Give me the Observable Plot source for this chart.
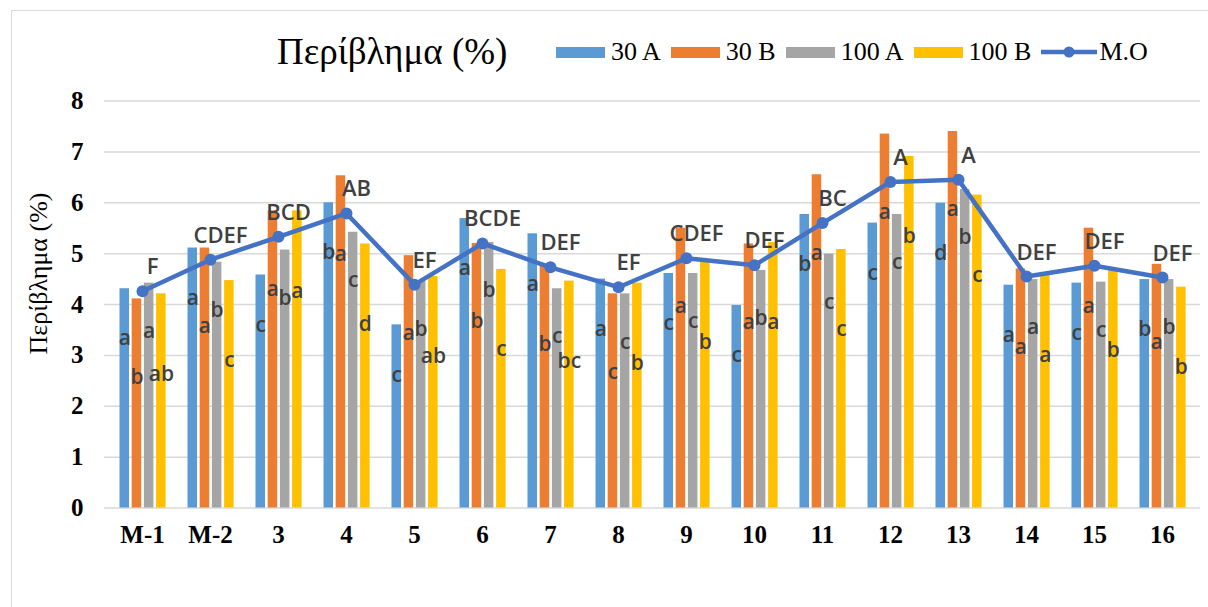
<!DOCTYPE html>
<html>
<head>
<meta charset="utf-8">
<script src="https://cdn.jsdelivr.net/npm/d3@7"></script>
<script src="https://cdn.jsdelivr.net/npm/@observablehq/plot@0.6"></script>
<style>
  html, body { margin: 0; padding: 0; background: #fff; overflow: hidden; }
  #wrap { position: relative; width: 1208px; height: 607px; overflow: hidden; background: #fff; }
  #frame { position: absolute; left: 11px; top: 10px; width: 1400px; height: 900px; border: 1.5px solid #d9d9d9; box-sizing: border-box; }
  #title { position: absolute; left: 277px; top: 33px; font-family: "Liberation Serif", serif; font-size: 37px; line-height: 37px; color: #000; white-space: nowrap; }
  #legend { position: absolute; left: 556px; top: 39px; height: 26px; display: flex; align-items: center; font-family: "Liberation Serif", serif; font-size: 26px; line-height: 26px; color: #000; white-space: nowrap; }
  .item { display: flex; align-items: center; margin-right: 10px; }
  .sw { display: inline-block; width: 49px; height: 11px; margin-right: 6px; }
  .lsw { display: inline-block; width: 56px; height: 14px; margin-right: 2px; }
  #chart { position: absolute; left: 0; top: 80px; }
</style>
</head>
<body>
<div id="wrap">
  <div id="frame"></div>
  <div id="title"></div>
  <div id="legend"></div>
  <div id="chart"></div>
</div>
<script>
// ---------- data ----------
const categories = ["M-1", "M-2", "3", "4", "5", "6", "7", "8", "9", "10", "11", "12", "13", "14", "15", "16"];
const seriesNames = ["30 A", "30 B", "100 A", "100 B"];
const lineName = "M.O";
const titleText = "Περίβλημα (%)";
const yAxisTitle = "Περίβλημα (%)";
const yTicks = [0, 1, 2, 3, 4, 5, 6, 7, 8];

const values30A  = [4.31, 5.11, 4.58, 6.00, 3.60, 5.69, 5.39, 4.50, 4.61, 3.98, 5.77, 5.60, 5.99, 4.38, 4.42, 4.49];
const values30B  = [4.11, 5.11, 5.84, 6.53, 4.96, 5.20, 4.76, 4.21, 5.50, 5.19, 6.55, 7.35, 7.40, 4.70, 5.50, 4.79];
const values100A = [4.42, 4.83, 5.07, 5.42, 4.45, 5.22, 4.31, 4.21, 4.61, 4.67, 4.99, 5.77, 6.26, 4.49, 4.44, 4.49];
const values100B = [4.21, 4.47, 5.84, 5.19, 4.55, 4.69, 4.46, 4.42, 4.83, 5.22, 5.08, 6.91, 6.15, 4.57, 4.67, 4.34];
const valuesMO   = [4.26, 4.88, 5.33, 5.79, 4.39, 5.20, 4.73, 4.34, 4.91, 4.77, 5.60, 6.41, 6.45, 4.55, 4.76, 4.53];

const letters30A  = ["a", "a", "c", "b", "c", "a", "a", "a", "c", "c", "b", "c", "d", "a", "c", "b"];
const letters30B  = ["b", "a", "a", "a", "a", "b", "b", "c", "a", "a", "a", "a", "a", "a", "a", "a"];
const letters100A = ["a", "b", "b", "c", "b", "b", "c", "c", "c", "b", "c", "c", "b", "a", "c", "b"];
const letters100B = ["ab", "c", "a", "d", "ab", "c", "bc", "b", "b", "a", "c", "b", "c", "a", "b", "b"];
const lettersMO   = ["F", "CDEF", "BCD", "AB", "EF", "BCDE", "DEF", "EF", "CDEF", "DEF", "BC", "A", "A", "DEF", "DEF", "DEF"];

const colors = ["#5B9BD5", "#ED7D31", "#A5A5A5", "#FFC000"];
const lineColor = "#4472C4";

// ---------- tables ----------
const seriesValues = [values30A, values30B, values100A, values100B];
const seriesLetters = [letters30A, letters30B, letters100A, letters100B];
const barTables = seriesValues.map((vals, s) =>
  categories.map((c, i) => ({cat: c, value: vals[i], letter: seriesLetters[s][i], series: seriesNames[s]}))
);
const meanTable = categories.map((c, i) => ({cat: c, value: valuesMO[i], letter: lettersMO[i]}));

// ---------- header ----------
document.getElementById("title").textContent = titleText;
const legend = document.getElementById("legend");
seriesNames.forEach((name, i) => {
  const it = document.createElement("div");
  it.className = "item";
  const sw = document.createElement("span");
  sw.className = "sw";
  sw.style.background = colors[i];
  const tx = document.createElement("span");
  tx.textContent = name;
  it.appendChild(sw); it.appendChild(tx);
  legend.appendChild(it);
});
{
  const it = document.createElement("div");
  it.className = "item";
  it.innerHTML = `<svg class="lsw" width="56" height="14"><line x1="0" y1="7" x2="56" y2="7" stroke="${lineColor}" stroke-width="4.5"/><circle cx="28" cy="7" r="5.5" fill="${lineColor}"/></svg>`;
  const tx = document.createElement("span");
  tx.textContent = lineName;
  it.appendChild(tx);
  legend.appendChild(it);
}

// ---------- chart ----------
const W = 1208, H = 527;
const mL = 104, mR = 8, mT = 20.5, mB = 99.5;
const band = (W - mL - mR) / categories.length;
const barW = 10, pitch = 12.2, lead = 11.5;
const letterDrop = [50, 78, 48, 80]; // px below bar top, per series (staggered like the reference)

const barMarks = barTables.map((tbl, s) => {
  const insetLeft = lead + s * pitch;
  return Plot.barY(tbl, {
    x: "cat", y: "value", fill: colors[s],
    insetLeft, insetRight: band - insetLeft - barW
  });
});
const letterMarks = barTables.map((tbl, s) => {
  const center = lead + s * pitch + barW / 2;
  return Plot.text(tbl, {
    x: "cat", y: "value", text: "letter",
    dx: center - band / 2, dy: letterDrop[s],
    fontSize: 21, fontFamily: "Open Sans", fontWeight: 600, fill: "#404040"
  });
});

const chart = Plot.plot({
  width: W, height: H,
  marginLeft: mL, marginRight: mR, marginTop: mT, marginBottom: mB,
  style: {background: "transparent", color: "#000", fontFamily: "Liberation Serif"},
  x: {type: "band", domain: categories, padding: 0, label: null},
  y: {domain: [0, 8], label: null},
  marks: [
    Plot.gridY(yTicks, {stroke: "#d9d9d9", strokeOpacity: 1, strokeWidth: 1.5}),
    ...barMarks,
    Plot.axisY(yTicks, {tickSize: 0, tickPadding: 21, tickFormat: d => String(d), fontSize: 25, fontWeight: "bold", fontFamily: "Liberation Serif", label: null}),
    Plot.axisX({tickSize: 0, tickPadding: 17, fontSize: 25, fontWeight: "bold", fontFamily: "Liberation Serif", label: null}),
    Plot.line(meanTable, {x: "cat", y: "value", stroke: lineColor, strokeWidth: 4.5}),
    Plot.dot(meanTable, {x: "cat", y: "value", r: 6, fill: lineColor}),
    ...letterMarks,
    Plot.text(meanTable, {x: "cat", y: "value", text: "letter", dx: 10, dy: -24,
      fontSize: 22, fontFamily: "Open Sans", fontWeight: 600, fill: "#404040"}),
    Plot.text([yAxisTitle], {text: d => d, frameAnchor: "left", textAnchor: "middle", rotate: -90,
      dx: -66, dy: -31, fontSize: 26, fontFamily: "Liberation Serif", fill: "#000"})
  ]
});
document.getElementById("chart").appendChild(chart);
</script>
</body>
</html>
